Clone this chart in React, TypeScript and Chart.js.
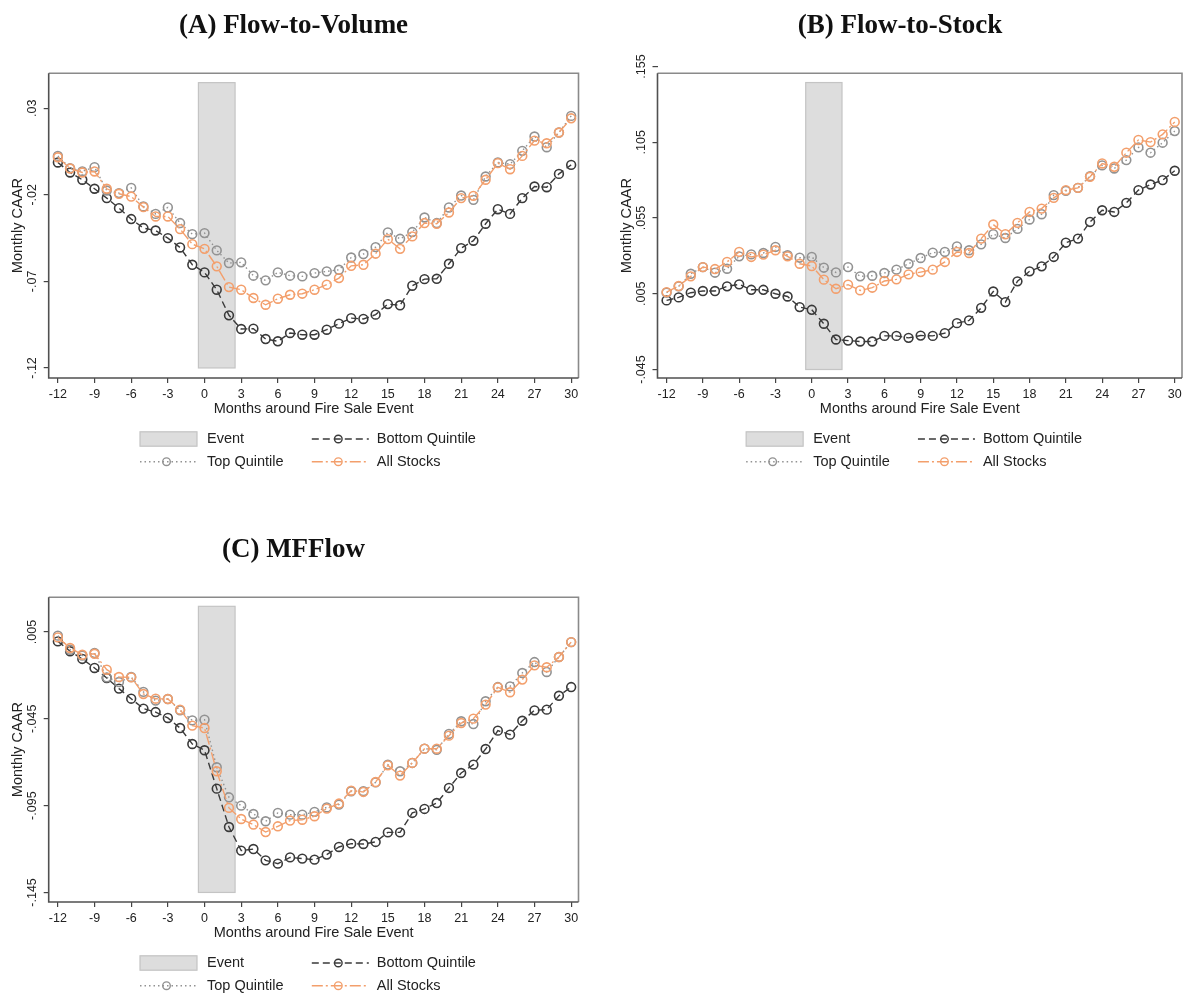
import React, { useEffect, useRef } from "react";
import { Chart, registerables } from "chart.js";

Chart.register(...registerables);

// ---------- data ----------
const months = [-12, -11, -10, -9, -8, -7, -6, -5, -4, -3, -2, -1, 0, 1, 2, 3, 4, 5, 6, 7, 8, 9, 10, 11, 12, 13, 14, 15, 16, 17, 18, 19, 20, 21, 22, 23, 24, 25, 26, 27, 28, 29, 30];
const xTicks = [-12, -9, -6, -3, 0, 3, 6, 9, 12, 15, 18, 21, 24, 27, 30];
const eventStart = -0.5;
const eventEnd = 2.5;

// Panel A: Flow-to-Volume
const aTop = [0.0025, -0.0046, -0.0065, -0.004, -0.0175, -0.019, -0.016, -0.0267, -0.031, -0.0273, -0.0363, -0.0427, -0.0421, -0.0521, -0.0594, -0.059, -0.0667, -0.0694, -0.0648, -0.0667, -0.0671, -0.0652, -0.0642, -0.0633, -0.0562, -0.0542, -0.0502, -0.0417, -0.0454, -0.0415, -0.0331, -0.0363, -0.0273, -0.0204, -0.0229, -0.0094, -0.0013, -0.0023, 0.0054, 0.0137, 0.0075, 0.016, 0.0256];
const aAll = [0.0017, -0.0048, -0.0071, -0.0065, -0.0165, -0.0194, -0.021, -0.0271, -0.0325, -0.0325, -0.0398, -0.0485, -0.0512, -0.0613, -0.0733, -0.0748, -0.0796, -0.0835, -0.08, -0.0777, -0.0771, -0.0748, -0.0719, -0.0681, -0.061, -0.0604, -0.054, -0.0456, -0.0512, -0.044, -0.0363, -0.0367, -0.0302, -0.0219, -0.0206, -0.0113, -0.0017, -0.0052, 0.0025, 0.0113, 0.0098, 0.016, 0.0242];
const aBottom = [-0.0013, -0.0071, -0.0113, -0.0165, -0.0219, -0.0277, -0.034, -0.0392, -0.0406, -0.045, -0.0504, -0.0604, -0.0648, -0.0748, -0.0896, -0.0975, -0.0973, -0.1033, -0.1046, -0.0998, -0.1008, -0.1008, -0.0979, -0.0944, -0.0912, -0.0917, -0.0892, -0.0831, -0.0838, -0.0725, -0.0687, -0.0685, -0.0598, -0.0508, -0.0465, -0.0367, -0.0283, -0.031, -0.0219, -0.0152, -0.0156, -0.0079, -0.0027];
const aYTicks = [-0.12, -0.07, -0.02, 0.03];
const aYLabels = ["-.12", "-.07", "-.02", ".03"];

// Panel B: Flow-to-Stock
const bTop = [0.0057, 0.0099, 0.0182, 0.0226, 0.0189, 0.0215, 0.0297, 0.031, 0.0319, 0.0359, 0.0304, 0.0288, 0.0293, 0.0222, 0.0191, 0.0226, 0.0165, 0.0169, 0.0187, 0.0209, 0.0248, 0.0286, 0.0321, 0.0326, 0.0363, 0.0337, 0.0376, 0.0443, 0.0418, 0.0478, 0.054, 0.0575, 0.0701, 0.0729, 0.0749, 0.0826, 0.0897, 0.0877, 0.0932, 0.1016, 0.0981, 0.1047, 0.1124];
const bAll = [0.0061, 0.0101, 0.0165, 0.0226, 0.0213, 0.026, 0.0326, 0.0293, 0.0308, 0.0337, 0.0297, 0.0248, 0.0233, 0.0143, 0.0083, 0.011, 0.0072, 0.009, 0.0134, 0.0145, 0.0178, 0.0193, 0.0209, 0.026, 0.0326, 0.0319, 0.0414, 0.0507, 0.0443, 0.0518, 0.059, 0.0612, 0.0683, 0.0734, 0.0749, 0.0822, 0.091, 0.0888, 0.0981, 0.1065, 0.1051, 0.1102, 0.1184];
const bBottom = [0.0006, 0.0026, 0.0057, 0.0068, 0.0068, 0.0099, 0.0112, 0.0076, 0.0076, 0.005, 0.0032, -0.0038, -0.0056, -0.0148, -0.0252, -0.0259, -0.0265, -0.0265, -0.0228, -0.0228, -0.0241, -0.0226, -0.0228, -0.021, -0.0144, -0.0126, -0.0043, 0.0065, -0.0005, 0.0132, 0.0198, 0.0231, 0.0293, 0.0387, 0.0414, 0.0524, 0.0601, 0.059, 0.065, 0.0734, 0.0771, 0.08, 0.0862];
const bYTicks = [-0.045, 0.005, 0.055, 0.105, 0.155];
const bYLabels = ["-.045", ".005", ".055", ".105", ".155"];

// Panel C: MFFlow
const cTop = [0.0029, -0.0052, -0.0086, -0.0071, -0.0211, -0.0238, -0.0209, -0.0295, -0.0345, -0.0336, -0.0401, -0.0459, -0.0455, -0.0729, -0.0902, -0.095, -0.0998, -0.104, -0.0992, -0.1002, -0.1002, -0.0986, -0.096, -0.0944, -0.0867, -0.0867, -0.0816, -0.0714, -0.0752, -0.0704, -0.0622, -0.0628, -0.0537, -0.0464, -0.048, -0.0349, -0.0267, -0.0263, -0.0186, -0.0123, -0.018, -0.0094, -0.0008];
const cAll = [0.0019, -0.0042, -0.0081, -0.0075, -0.0167, -0.0209, -0.0211, -0.0307, -0.0334, -0.0336, -0.0397, -0.0489, -0.0503, -0.0752, -0.0963, -0.1027, -0.1059, -0.1102, -0.1069, -0.1036, -0.1031, -0.1011, -0.0967, -0.0938, -0.0864, -0.0871, -0.0814, -0.0718, -0.0777, -0.0704, -0.0622, -0.0622, -0.0547, -0.0474, -0.0449, -0.0368, -0.0269, -0.0297, -0.0224, -0.0142, -0.0153, -0.0094, -0.0008];
const cBottom = [-0.0004, -0.0061, -0.0105, -0.0157, -0.0215, -0.0276, -0.0334, -0.0391, -0.0411, -0.0445, -0.0503, -0.0595, -0.0631, -0.0852, -0.1073, -0.1209, -0.12, -0.1265, -0.1284, -0.1248, -0.1255, -0.1261, -0.1232, -0.1188, -0.1169, -0.1171, -0.1159, -0.1104, -0.1104, -0.0992, -0.0969, -0.0935, -0.0848, -0.0762, -0.0714, -0.0624, -0.0518, -0.0541, -0.0461, -0.0401, -0.0397, -0.0317, -0.0267];
const cYTicks = [-0.145, -0.095, -0.045, 0.005];
const cYLabels = ["-.145", "-.095", "-.045", ".005"];

const legendLabels = ["Event", "Bottom Quintile", "Top Quintile", "All Stocks"];
const xTitle = "Months around Fire Sale Event";
const yTitle = "Monthly CAAR";

// ---------- styles ----------
const SANS = '"Liberation Sans", Arial, sans-serif';
const SERIF = '"Liberation Serif", "Times New Roman", serif';
const C_DARK = "#3a3a3a";
const C_GRAY = "#929292";
const C_ORANGE = "#f39f6c";
const DASH_TOP = [1.5, 3];
const DASH_BOTTOM = [7, 4];
const DASH_ALL = [11, 3, 2, 3];

type PanelCfg = {
  title: string;
  titleX: number;
  top: number[];
  all: number[];
  bottom: number[];
  yMin: number;
  yMax: number;
  yTicks: number[];
  yLabels: string[];
  bandLow: number;
  bandHigh: number;
  yAxisWidth: number;
  padRight: number;
  width: number;
  height: number;
};

const PAD_TOP = 73.3;
const PLOT_BOTTOM = 378;
const XAXIS_H = 50;

function pts(vals: number[]) {
  return months.map((m, i) => ({ x: m, y: vals[i] }));
}

function drawMarker(ctx: CanvasRenderingContext2D, x: number, y: number, r: number, color: string) {
  ctx.save();
  ctx.setLineDash([]);
  ctx.strokeStyle = color;
  ctx.lineWidth = 1.4;
  ctx.beginPath();
  ctx.arc(x, y, r, 0, Math.PI * 2);
  ctx.stroke();
  ctx.restore();
}

function drawLegendLine(ctx: CanvasRenderingContext2D, x0: number, y: number, color: string, dash: number[]) {
  ctx.save();
  ctx.strokeStyle = color;
  ctx.lineWidth = 1.4;
  ctx.setLineDash(dash);
  ctx.beginPath();
  ctx.moveTo(x0, y);
  ctx.lineTo(x0 + 57, y);
  ctx.stroke();
  ctx.restore();
  drawMarker(ctx, x0 + 26.5, y, 3.8, color);
}

function makePlugin(cfg: PanelCfg) {
  return {
    id: "decor",
    beforeDatasetsDraw(chart: any) {
      const { ctx, scales } = chart;
      const x = scales.x;
      const y = scales.y;
      const x0 = x.getPixelForValue(eventStart);
      const x1 = x.getPixelForValue(eventEnd);
      const y0 = y.getPixelForValue(cfg.bandHigh);
      const y1 = y.getPixelForValue(cfg.bandLow);
      ctx.save();
      ctx.fillStyle = "#dddddd";
      ctx.fillRect(x0, y0, x1 - x0, y1 - y0);
      ctx.strokeStyle = "#c4c4c4";
      ctx.lineWidth = 1.2;
      ctx.strokeRect(x0, y0, x1 - x0, y1 - y0);
      ctx.restore();
    },
    afterDraw(chart: any) {
      const { ctx, chartArea, scales } = chart;
      const y = scales.y;
      const { left, right, top, bottom } = chartArea;
      ctx.save();
      // frame
      ctx.lineWidth = 1.6;
      ctx.strokeStyle = "#8a8a8a";
      ctx.beginPath();
      ctx.moveTo(left, top);
      ctx.lineTo(right, top);
      ctx.lineTo(right, bottom);
      ctx.stroke();
      ctx.strokeStyle = "#505050";
      ctx.beginPath();
      ctx.moveTo(left, top);
      ctx.lineTo(left, bottom);
      ctx.lineTo(right, bottom);
      ctx.stroke();

      // y tick labels (rotated)
      ctx.fillStyle = "#222";
      ctx.textAlign = "center";
      ctx.textBaseline = "middle";
      ctx.font = `12.5px ${SANS}`;
      cfg.yTicks.forEach((v, i) => {
        const py = y.getPixelForValue(v);
        ctx.save();
        ctx.translate(left - 15.7, py);
        ctx.rotate(-Math.PI / 2);
        ctx.fillText(cfg.yLabels[i], 0, 0);
        ctx.restore();
      });
      // y title
      ctx.font = `14.5px ${SANS}`;
      ctx.save();
      ctx.translate(left - 30.5, (top + bottom) / 2);
      ctx.rotate(-Math.PI / 2);
      ctx.fillText(yTitle, 0, 0);
      ctx.restore();
      // x title
      const cx = (left + right) / 2;
      ctx.fillText(xTitle, cx, bottom + 31);

      // legend
      const r1 = bottom + 61;
      const r2 = bottom + 83.7;
      const c1 = cx - 173.6;
      const c2 = cx - 1.8;
      ctx.fillStyle = "#dddddd";
      ctx.fillRect(c1, r1 - 7.2, 57, 14.4);
      ctx.strokeStyle = "#c4c4c4";
      ctx.lineWidth = 1.2;
      ctx.strokeRect(c1, r1 - 7.2, 57, 14.4);
      drawLegendLine(ctx, c2, r1, C_DARK, DASH_BOTTOM);
      drawLegendLine(ctx, c1, r2, C_GRAY, DASH_TOP);
      drawLegendLine(ctx, c2, r2, C_ORANGE, DASH_ALL);
      ctx.fillStyle = "#222";
      ctx.textAlign = "left";
      ctx.font = `14.5px ${SANS}`;
      ctx.fillText(legendLabels[0], c1 + 67, r1);
      ctx.fillText(legendLabels[1], c2 + 65, r1);
      ctx.fillText(legendLabels[2], c1 + 67, r2);
      ctx.fillText(legendLabels[3], c2 + 65, r2);

      // panel title
      ctx.textAlign = "center";
      ctx.font = `bold 27px ${SERIF}`;
      ctx.fillStyle = "#111";
      ctx.fillText(cfg.title, cfg.titleX, 26);
      ctx.restore();
    },
  };
}

function buildConfig(cfg: PanelCfg): any {
  const ds = (label: string, vals: number[], color: string, dash: number[], order: number) => ({
    label,
    data: pts(vals),
    borderColor: color,
    borderWidth: 1.4,
    borderDash: dash,
    pointRadius: 4.4,
    pointBorderWidth: 1.6,
    pointBorderColor: color,
    pointBackgroundColor: "rgba(0,0,0,0)",
    pointStyle: "circle",
    fill: false,
    tension: 0,
    order,
  });
  return {
    type: "line",
    data: {
      datasets: [
        ds(legendLabels[1], cfg.bottom, C_DARK, DASH_BOTTOM, 3),
        ds(legendLabels[2], cfg.top, C_GRAY, DASH_TOP, 2),
        ds(legendLabels[3], cfg.all, C_ORANGE, DASH_ALL, 1),
      ],
    },
    options: {
      responsive: false,
      maintainAspectRatio: false,
      animation: false,
      events: [],
      layout: {
        padding: { left: 0, right: cfg.padRight, top: PAD_TOP, bottom: cfg.height - PLOT_BOTTOM - XAXIS_H },
      },
      plugins: { legend: { display: false }, tooltip: { enabled: false }, title: { display: false } },
      scales: {
        x: {
          type: "linear",
          min: -12.75,
          max: 30.6,
          afterBuildTicks: (s: any) => {
            s.ticks = xTicks.map((v) => ({ value: v }));
          },
          afterFit: (s: any) => {
            s.height = XAXIS_H;
            s.paddingLeft = 0;
            s.paddingRight = 0;
          },
          border: { display: false },
          grid: { display: true, drawOnChartArea: false, drawTicks: true, tickLength: 5, color: "#444", lineWidth: 1.2 },
          ticks: {
            autoSkip: false,
            maxRotation: 0,
            minRotation: 0,
            padding: 4,
            color: "#222",
            font: { family: SANS, size: 12.5 },
            callback: (v: any) => String(v),
          },
        },
        y: {
          type: "linear",
          min: cfg.yMin,
          max: cfg.yMax,
          afterBuildTicks: (s: any) => {
            s.ticks = cfg.yTicks.map((v) => ({ value: v }));
          },
          afterFit: (s: any) => {
            s.width = cfg.yAxisWidth;
            s.paddingTop = 0;
            s.paddingBottom = 0;
          },
          border: { display: false },
          grid: { display: true, drawOnChartArea: false, drawTicks: true, tickLength: 5, color: "#444", lineWidth: 1.2 },
          ticks: { display: false },
        },
      },
    },
    plugins: [makePlugin(cfg)],
  };
}

const panelA: PanelCfg = {
  title: "(A) Flow-to-Volume",
  titleX: 293.5,
  top: aTop,
  all: aAll,
  bottom: aBottom,
  yMin: -0.1258,
  yMax: 0.0502,
  yTicks: aYTicks,
  yLabels: aYLabels,
  bandLow: -0.12,
  bandHigh: 0.0448,
  yAxisWidth: 48.7,
  padRight: 15.5,
  width: 594,
  height: 490,
};

const panelB: PanelCfg = {
  title: "(B) Flow-to-Stock",
  titleX: 306,
  top: bTop,
  all: bAll,
  bottom: bBottom,
  yMin: -0.0506,
  yMax: 0.1505,
  yTicks: bYTicks,
  yLabels: bYLabels,
  bandLow: -0.045,
  bandHigh: 0.1444,
  yAxisWidth: 63.5,
  padRight: 1,
  width: 594,
  height: 490,
};

const panelC: PanelCfg = {
  title: "(C) MFFlow",
  titleX: 293.5,
  top: cTop,
  all: cAll,
  bottom: cBottom,
  yMin: -0.1505,
  yMax: 0.025,
  yTicks: cYTicks,
  yLabels: cYLabels,
  bandLow: -0.145,
  bandHigh: 0.0198,
  yAxisWidth: 48.7,
  padRight: 15.5,
  width: 594,
  height: 470,
};

function Panel({ cfg, left, top }: { cfg: PanelCfg; left: number; top: number }) {
  const ref = useRef<HTMLCanvasElement | null>(null);
  useEffect(() => {
    if (!ref.current) return;
    const chart = new Chart(ref.current, buildConfig(cfg));
    return () => chart.destroy();
  }, [cfg]);
  return (
    <canvas
      ref={ref}
      width={cfg.width}
      height={cfg.height}
      style={{ position: "absolute", left, top, width: cfg.width, height: cfg.height, display: "block" }}
    />
  );
}

export default function App() {
  return (
    <div style={{ position: "absolute", left: 0, top: 0, width: 1188, height: 994, background: "#fff", overflow: "hidden" }}>
      <Panel cfg={panelA} left={0} top={0} />
      <Panel cfg={panelB} left={594} top={0} />
      <Panel cfg={panelC} left={0} top={524} />
    </div>
  );
}
